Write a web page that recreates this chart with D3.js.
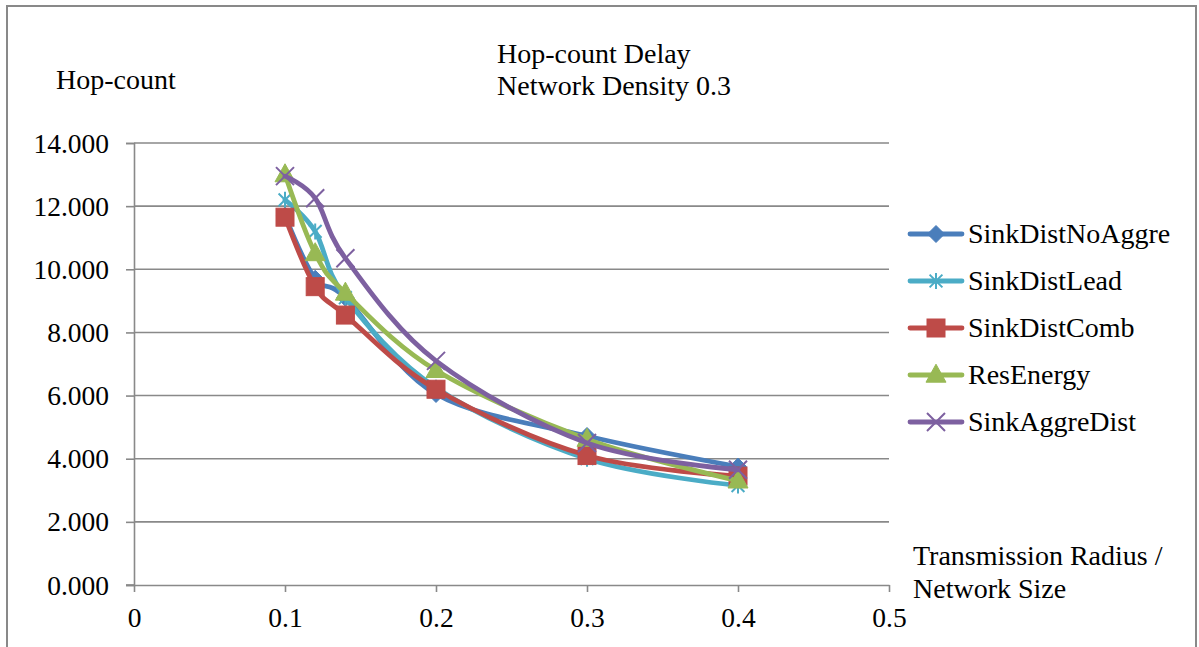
<!DOCTYPE html>
<html>
<head>
<meta charset="utf-8">
<script src="https://cdn.jsdelivr.net/npm/d3@7"></script>
<style>
  html, body { margin: 0; padding: 0; background: #fff; }
  svg { display: block; font-family: "Liberation Serif", "Times New Roman", serif; }
</style>
</head>
<body>
<svg id="chart" width="1199" height="647"></svg>
<script>
// Transmission radius / network size
const radius = [0.1, 0.12, 0.14, 0.2, 0.3, 0.4];

// Hop-count per scheme
const sinkDistNoAggre = [11.70, 9.70, 9.10, 6.05, 4.72, 3.75];
const sinkDistLead    = [12.20, 11.20, 9.10, 6.25, 4.00, 3.15];
const sinkDistComb    = [11.65, 9.45, 8.55, 6.20, 4.10, 3.45];
const resEnergy       = [13.00, 10.50, 9.25, 6.80, 4.62, 3.30];
const sinkAggreDist   = [12.95, 12.25, 10.35, 7.10, 4.50, 3.65];

const seriesNames = ["SinkDistNoAggre", "SinkDistLead", "SinkDistComb", "ResEnergy", "SinkAggreDist"];
const seriesValues = [sinkDistNoAggre, sinkDistLead, sinkDistComb, resEnergy, sinkAggreDist];
const seriesColors = ["#4a7ebb", "#4bacc6", "#be4b48", "#98b954", "#7d60a0"];
const seriesMarkers = ["diamond", "star", "square", "triangle", "cross"];

const xTicks = [0, 0.1, 0.2, 0.3, 0.4, 0.5];
const yTicks = [0, 2, 4, 6, 8, 10, 12, 14];

const svg = d3.select("#chart");
const gray = "#898989";
const fontSize = 28;
const tickFont = 27.5;

// outer frame
svg.append("rect")
  .attr("x", 7).attr("y", 6).attr("width", 1189).attr("height", 660)
  .attr("fill", "#fff").attr("stroke", gray).attr("stroke-width", 2);

const x = d3.scaleLinear().domain([0, 0.5]).range([134, 889]);
const y = d3.scaleLinear().domain([0, 14]).range([585, 143]);

// horizontal gridlines
svg.append("g").selectAll("line").data(yTicks.filter(d => d > 0)).join("line")
  .attr("x1", x(0)).attr("x2", x(0.5))
  .attr("y1", d => y(d)).attr("y2", d => y(d))
  .attr("stroke", gray).attr("stroke-width", 1.6);

// y axis
const yAxis = svg.append("g")
  .attr("transform", `translate(${x(0)},0)`)
  .call(d3.axisLeft(y).tickValues(yTicks).tickSize(8).tickPadding(17)
    .tickFormat(d3.format(".3f")));
yAxis.select(".domain").attr("stroke", gray).attr("stroke-width", 1.6);
yAxis.selectAll(".tick line").attr("stroke", gray).attr("stroke-width", 1.6);
yAxis.selectAll(".tick text")
  .attr("font-family", "Liberation Serif").attr("font-size", tickFont)
  .attr("fill", "#000").attr("dy", "0.33em");

// x axis
const xAxis = svg.append("g")
  .attr("transform", `translate(0,${y(0)})`)
  .call(d3.axisBottom(x).tickValues(xTicks).tickSize(7).tickSizeOuter(0).tickPadding(15)
    .tickFormat(d => d === 0 ? "0" : d3.format(".1f")(d)));
xAxis.select(".domain").attr("stroke", gray).attr("stroke-width", 1.6);
xAxis.selectAll(".tick line").attr("stroke", gray).attr("stroke-width", 1.6);
xAxis.selectAll(".tick text")
  .attr("font-family", "Liberation Serif").attr("font-size", tickFont)
  .attr("fill", "#000").attr("dy", "0.71em");
// extend the x axis line left under the y tick stubs
svg.append("line").attr("x1", 126).attr("x2", x(0))
  .attr("y1", y(0)).attr("y2", y(0)).attr("stroke", gray).attr("stroke-width", 1.6);

// markers
function drawMarker(g, type, cx, cy, color) {
  if (type === "diamond") {
    const r = 8.5;
    g.append("path").attr("d", `M${cx},${cy - r}L${cx + r},${cy}L${cx},${cy + r}L${cx - r},${cy}Z`)
      .attr("fill", color).attr("stroke", color).attr("stroke-width", 1);
  } else if (type === "square") {
    const s = 18;
    g.append("rect").attr("x", cx - s / 2).attr("y", cy - s / 2).attr("width", s).attr("height", s)
      .attr("fill", color).attr("stroke", color).attr("stroke-width", 1);
  } else if (type === "triangle") {
    const w = 20, h = 18;
    g.append("path").attr("d", `M${cx},${cy - h * 0.6}L${cx + w / 2},${cy + h * 0.4}L${cx - w / 2},${cy + h * 0.4}Z`)
      .attr("fill", color).attr("stroke", color).attr("stroke-width", 1);
  } else if (type === "cross") {
    const r = 9;
    g.append("path").attr("d", `M${cx - r},${cy - r}L${cx + r},${cy + r}M${cx - r},${cy + r}L${cx + r},${cy - r}`)
      .attr("stroke", color).attr("stroke-width", 2).attr("fill", "none");
  } else if (type === "star") {
    const r = 8;
    const a = r * 0.8;
    g.append("path").attr("d", `M${cx},${cy - r}L${cx},${cy + r}M${cx - a},${cy - a}L${cx + a},${cy + a}M${cx - a},${cy + a}L${cx + a},${cy - a}`)
      .attr("stroke", color).attr("stroke-width", 2).attr("fill", "none");
  }
}

const line = d3.line()
  .x(d => x(d[0])).y(d => y(d[1]))
  .curve(d3.curveCardinal.tension(0));

const plot = svg.append("g");
seriesValues.forEach((vals, i) => {
  const pts = radius.map((r, k) => [r, vals[k]]);
  const g = plot.append("g");
  g.append("path").attr("d", line(pts))
    .attr("fill", "none").attr("stroke", seriesColors[i])
    .attr("stroke-width", 4.8).attr("stroke-linejoin", "round").attr("stroke-linecap", "round");
  pts.forEach(p => drawMarker(g, seriesMarkers[i], x(p[0]), y(p[1]), seriesColors[i]));
});

// legend
const legendY = [234, 281, 328, 375, 422];
const legend = svg.append("g");
seriesNames.forEach((name, i) => {
  const g = legend.append("g");
  g.append("line").attr("x1", 910).attr("x2", 962)
    .attr("y1", legendY[i]).attr("y2", legendY[i])
    .attr("stroke", seriesColors[i]).attr("stroke-width", 4.8).attr("stroke-linecap", "round");
  drawMarker(g, seriesMarkers[i], 936, legendY[i], seriesColors[i]);
  g.append("text").attr("x", 968).attr("y", legendY[i] + 9)
    .attr("font-size", fontSize).attr("fill", "#000").text(name);
});

// titles
svg.append("text").attr("x", 497).attr("y", 63).attr("font-size", fontSize).text("Hop-count Delay");
svg.append("text").attr("x", 497).attr("y", 95).attr("font-size", fontSize).text("Network Density 0.3");
svg.append("text").attr("x", 56).attr("y", 89).attr("font-size", fontSize).text("Hop-count");
svg.append("text").attr("x", 913).attr("y", 565).attr("font-size", fontSize).text("Transmission Radius /");
svg.append("text").attr("x", 913).attr("y", 598).attr("font-size", fontSize).text("Network Size");
</script>
</body>
</html>
